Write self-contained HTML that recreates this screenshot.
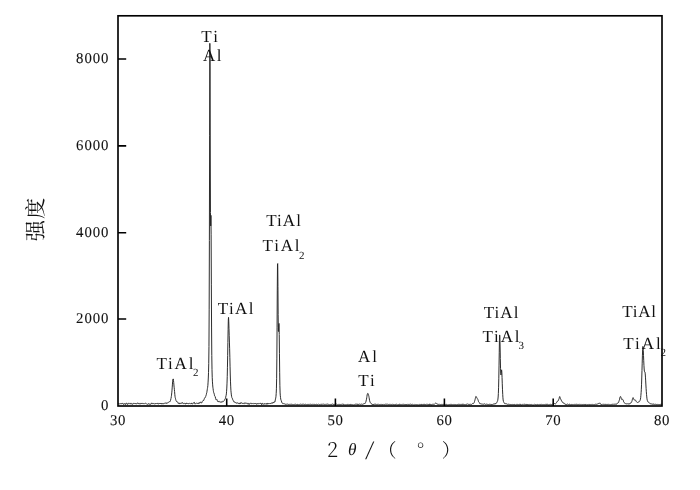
<!DOCTYPE html>
<html lang="zh"><head><meta charset="utf-8"><title>XRD</title>
<style>
html,body{margin:0;padding:0;background:#fff;}
body{width:700px;height:490px;overflow:hidden;}
svg{display:block;}
text{font-family:"Liberation Serif","Noto Serif CJK SC",serif;fill:#111;text-rendering:geometricPrecision;}
.tk{font-size:14.8px;letter-spacing:0.6px;stroke:#111;stroke-width:0.1px;}
.lb{font-size:17px;}
.sb{font-size:11px;}
.ax text{font-family:"Noto Serif CJK SC","Liberation Serif",serif;font-weight:300;}
.cj{font-family:"Noto Serif CJK SC","Liberation Serif",serif;font-size:21.2px;font-weight:400;}
</style></head><body>
<svg width="700" height="490" viewBox="0 0 700 490">
<rect width="700" height="490" fill="#fff"/>
<polyline fill="none" stroke="#222" stroke-width="0.95" stroke-linejoin="round" points="118.00,403.42 118.22,403.42 118.44,403.68 118.65,403.75 118.87,403.75 119.09,403.84 119.31,404.04 119.52,403.83 119.74,403.70 119.96,403.47 120.18,403.72 120.39,403.74 120.61,403.66 120.83,403.68 121.05,404.08 121.26,403.91 121.48,403.84 121.70,403.48 121.92,403.91 122.13,403.60 122.35,403.62 122.57,403.39 122.79,403.31 123.00,403.35 123.22,403.57 123.44,404.07 123.66,404.53 123.88,404.02 124.09,404.02 124.31,403.70 124.53,403.70 124.75,403.95 124.96,403.69 125.18,404.33 125.40,404.13 125.62,404.49 125.83,403.76 126.05,403.26 126.27,403.08 126.49,403.21 126.70,403.61 126.92,403.42 127.14,403.75 127.36,404.07 127.57,404.56 127.79,404.32 128.01,403.51 128.23,403.08 128.44,403.27 128.66,403.34 128.88,403.34 129.10,403.21 129.32,403.56 129.53,403.63 129.75,403.72 129.97,404.06 130.19,403.93 130.40,403.89 130.62,403.35 130.84,403.53 131.06,403.90 131.27,404.17 131.49,403.74 131.71,403.43 131.93,403.59 132.14,404.19 132.36,404.32 132.58,404.20 132.80,404.20 133.01,403.67 133.23,403.67 133.45,403.40 133.67,403.42 133.88,403.05 134.10,403.11 134.32,403.34 134.54,403.50 134.76,403.50 134.97,403.93 135.19,403.95 135.41,403.72 135.63,403.27 135.84,403.60 136.06,403.82 136.28,404.03 136.50,403.90 136.71,403.59 136.93,403.15 137.15,402.95 137.37,403.11 137.58,403.28 137.80,403.42 138.02,403.55 138.24,403.83 138.45,403.84 138.67,403.36 138.89,403.04 139.11,403.10 139.32,403.66 139.54,404.02 139.76,403.87 139.98,403.69 140.20,403.81 140.41,403.79 140.63,403.99 140.85,403.39 141.07,403.46 141.28,402.99 141.50,403.38 141.72,403.47 141.94,403.76 142.15,403.45 142.37,403.27 142.59,403.59 142.81,403.77 143.02,403.88 143.24,403.71 143.46,403.88 143.68,403.53 143.89,403.52 144.11,403.56 144.33,403.79 144.55,403.68 144.76,403.52 144.98,403.49 145.20,403.42 145.42,403.33 145.64,403.29 145.85,403.33 146.07,403.53 146.29,403.80 146.51,403.97 146.72,403.80 146.94,403.95 147.16,404.22 147.38,404.24 147.59,404.29 147.81,404.32 148.03,404.26 148.25,404.13 148.46,403.62 148.68,403.81 148.90,403.89 149.12,404.25 149.33,404.25 149.55,404.07 149.77,403.98 149.99,403.93 150.20,404.19 150.42,404.02 150.64,404.33 150.86,404.05 151.08,403.91 151.29,403.31 151.51,402.92 151.73,403.38 151.95,403.45 152.16,403.55 152.38,403.03 152.60,403.38 152.82,403.54 153.03,403.36 153.25,403.47 153.47,403.46 153.69,403.61 153.90,403.44 154.12,403.42 154.34,403.87 154.56,403.89 154.77,404.18 154.99,403.92 155.21,403.76 155.43,403.40 155.64,403.63 155.86,403.63 156.08,403.63 156.30,403.32 156.52,403.56 156.73,403.62 156.95,403.83 157.17,403.48 157.39,403.55 157.60,403.19 157.82,403.25 158.04,403.69 158.26,404.22 158.47,404.09 158.69,403.76 158.91,403.23 159.13,403.33 159.34,403.42 159.56,403.43 159.78,403.65 160.00,403.91 160.21,403.71 160.43,403.93 160.65,403.37 160.87,403.59 161.08,403.16 161.30,403.64 161.52,403.61 161.74,403.94 161.96,403.86 162.17,404.13 162.39,403.66 162.61,403.31 162.83,403.06 163.04,403.31 163.26,403.39 163.48,403.79 163.70,403.75 163.91,403.57 164.13,403.39 164.35,403.21 164.57,403.43 164.78,403.47 165.00,403.55 165.22,403.45 165.44,403.18 165.65,403.12 165.87,402.69 166.09,402.83 166.31,402.89 166.52,403.43 166.74,403.34 166.96,403.11 167.18,403.00 167.40,402.97 167.61,402.90 167.83,402.71 168.05,402.73 168.27,402.60 168.48,402.46 168.70,402.16 168.92,402.00 169.14,401.63 169.35,401.62 169.57,401.79 169.79,401.73 170.01,401.40 170.22,401.33 170.44,400.66 170.66,400.03 170.88,398.68 171.09,398.18 171.31,396.58 171.53,395.17 171.75,392.83 171.96,390.88 172.18,387.90 172.40,384.88 172.62,381.83 172.84,379.73 173.05,378.88 173.27,379.01 173.49,380.45 173.71,382.50 173.92,384.96 174.14,387.24 174.36,389.35 174.58,391.62 174.79,394.28 175.01,396.24 175.23,397.53 175.45,398.26 175.66,399.33 175.88,400.25 176.10,400.89 176.32,401.05 176.53,401.44 176.75,401.30 176.97,401.55 177.19,401.87 177.40,402.19 177.62,402.23 177.84,402.30 178.06,402.62 178.28,403.38 178.49,403.15 178.71,403.24 178.93,403.27 179.15,403.88 179.36,403.85 179.58,403.29 179.80,402.97 180.02,402.86 180.23,403.28 180.45,403.57 180.67,403.51 180.89,403.20 181.10,402.95 181.32,402.89 181.54,403.20 181.76,403.30 181.97,403.37 182.19,402.80 182.41,402.73 182.63,402.60 182.84,403.12 183.06,403.06 183.28,403.46 183.50,403.67 183.72,403.69 183.93,403.47 184.15,403.18 184.37,403.25 184.59,403.16 184.80,403.40 185.02,403.70 185.24,404.13 185.46,404.12 185.67,403.53 185.89,403.33 186.11,403.27 186.33,403.68 186.54,403.15 186.76,403.10 186.98,403.13 187.20,403.66 187.41,403.40 187.63,403.20 187.85,403.45 188.07,403.82 188.28,403.75 188.50,403.57 188.72,403.67 188.94,403.55 189.16,403.37 189.37,403.08 189.59,403.38 189.81,403.49 190.03,403.58 190.24,403.80 190.46,403.78 190.68,403.93 190.90,403.57 191.11,403.93 191.33,403.65 191.55,403.76 191.77,403.08 191.98,403.28 192.20,403.54 192.42,404.04 192.64,404.05 192.85,403.87 193.07,403.64 193.29,403.24 193.51,402.77 193.72,403.00 193.94,402.60 194.16,402.53 194.38,402.41 194.60,403.43 194.81,403.85 195.03,403.78 195.25,403.77 195.47,403.73 195.68,403.77 195.90,403.44 196.12,403.31 196.34,403.05 196.55,402.97 196.77,403.03 196.99,403.36 197.21,403.41 197.42,403.41 197.64,403.15 197.86,403.07 198.08,403.53 198.29,403.48 198.51,403.67 198.73,403.14 198.95,402.85 199.16,402.48 199.38,402.70 199.60,403.33 199.82,403.02 200.04,402.71 200.25,402.22 200.47,402.20 200.69,402.12 200.91,402.20 201.12,402.50 201.34,403.02 201.56,403.16 201.78,402.84 201.99,402.08 202.21,401.51 202.43,401.35 202.65,401.09 202.86,400.80 203.08,400.74 203.30,400.60 203.52,400.85 203.73,400.17 203.95,399.80 204.17,399.02 204.39,398.55 204.60,397.95 204.82,397.66 205.04,397.39 205.26,397.46 205.48,396.84 205.69,396.43 205.91,395.87 206.13,395.02 206.35,394.47 206.56,393.16 206.78,392.62 207.00,391.20 207.22,389.84 207.43,388.48 207.65,387.27 207.87,385.38 208.09,382.15 208.30,378.03 208.52,372.58 208.74,363.58 208.96,346.57 209.17,309.86 209.39,240.49 209.61,135.22 209.83,43.30 210.04,57.87 210.26,147.00 210.48,212.34 210.70,225.93 210.92,215.34 211.13,234.24 211.35,284.15 211.57,327.98 211.79,355.48 212.00,369.69 212.22,377.30 212.44,381.87 212.66,384.89 212.87,387.17 213.09,388.70 213.31,390.36 213.53,391.74 213.74,392.66 213.96,393.00 214.18,393.88 214.40,394.64 214.61,395.83 214.83,396.07 215.05,396.62 215.27,396.80 215.48,398.03 215.70,398.67 215.92,399.49 216.14,399.27 216.36,399.63 216.57,399.86 216.79,399.97 217.01,399.67 217.23,400.38 217.44,400.81 217.66,401.35 217.88,400.93 218.10,401.10 218.31,401.60 218.53,401.94 218.75,401.83 218.97,401.43 219.18,401.30 219.40,401.71 219.62,401.99 219.84,402.11 220.05,401.87 220.27,401.90 220.49,402.01 220.71,402.09 220.92,402.37 221.14,402.06 221.36,401.84 221.58,401.81 221.80,401.85 222.01,402.26 222.23,401.72 222.45,401.54 222.67,401.29 222.88,401.20 223.10,401.36 223.32,401.30 223.54,401.47 223.75,401.22 223.97,400.94 224.19,400.54 224.41,400.37 224.62,399.82 224.84,399.27 225.06,398.82 225.28,398.79 225.49,398.27 225.71,397.20 225.93,396.04 226.15,395.32 226.36,393.92 226.58,391.28 226.80,388.07 227.02,383.17 227.24,376.70 227.45,367.22 227.67,355.60 227.89,342.59 228.11,329.43 228.32,320.15 228.54,317.37 228.76,321.27 228.98,328.36 229.19,335.29 229.41,342.06 229.63,348.77 229.85,357.32 230.06,366.20 230.28,375.01 230.50,381.89 230.72,386.90 230.93,390.73 231.15,392.88 231.37,394.93 231.59,396.22 231.80,397.55 232.02,397.88 232.24,398.07 232.46,398.78 232.68,399.49 232.89,400.13 233.11,400.26 233.33,400.56 233.55,401.05 233.76,401.67 233.98,401.90 234.20,402.13 234.42,401.75 234.63,401.93 234.85,402.03 235.07,402.51 235.29,402.73 235.50,402.64 235.72,402.46 235.94,402.74 236.16,403.18 236.37,403.37 236.59,403.17 236.81,402.80 237.03,402.82 237.24,402.87 237.46,402.78 237.68,403.10 237.90,403.08 238.12,403.45 238.33,403.53 238.55,403.44 238.77,403.18 238.99,403.37 239.20,403.76 239.42,403.83 239.64,403.23 239.86,403.15 240.07,403.27 240.29,403.80 240.51,403.15 240.73,403.03 240.94,402.56 241.16,402.96 241.38,402.88 241.60,402.95 241.81,403.17 242.03,403.22 242.25,403.34 242.47,403.01 242.68,403.33 242.90,403.46 243.12,403.60 243.34,403.19 243.56,403.06 243.77,403.35 243.99,403.65 244.21,403.79 244.43,403.25 244.64,403.05 244.86,402.69 245.08,403.03 245.30,403.33 245.51,403.36 245.73,403.08 245.95,402.85 246.17,403.11 246.38,403.23 246.60,403.43 246.82,403.27 247.04,403.65 247.25,403.78 247.47,403.82 247.69,403.61 247.91,403.02 248.12,403.20 248.34,403.26 248.56,403.90 248.78,404.23 249.00,404.61 249.21,404.28 249.43,404.14 249.65,403.54 249.87,403.34 250.08,403.16 250.30,403.05 250.52,403.30 250.74,403.01 250.95,403.41 251.17,403.26 251.39,403.69 251.61,403.52 251.82,403.81 252.04,403.64 252.26,403.64 252.48,403.52 252.69,403.51 252.91,403.49 253.13,403.36 253.35,403.63 253.56,403.67 253.78,403.70 254.00,403.57 254.22,403.61 254.44,404.02 254.65,403.57 254.87,403.70 255.09,403.44 255.31,403.49 255.52,403.47 255.74,403.34 255.96,403.80 256.18,403.89 256.39,404.30 256.61,404.13 256.83,403.80 257.05,403.47 257.26,403.24 257.48,403.67 257.70,403.90 257.92,404.18 258.13,403.85 258.35,403.59 258.57,403.50 258.79,403.49 259.00,403.59 259.22,403.59 259.44,403.45 259.66,403.54 259.88,403.50 260.09,403.44 260.31,403.30 260.53,403.19 260.75,403.65 260.96,403.26 261.18,403.87 261.40,403.98 261.62,404.60 261.83,403.80 262.05,403.49 262.27,403.33 262.49,403.93 262.70,403.93 262.92,403.85 263.14,403.72 263.36,404.11 263.57,404.36 263.79,404.17 264.01,403.79 264.23,403.55 264.44,403.62 264.66,404.05 264.88,404.05 265.10,404.23 265.32,403.86 265.53,403.77 265.75,403.69 265.97,403.91 266.19,403.80 266.40,403.58 266.62,403.49 266.84,404.32 267.06,404.40 267.27,404.13 267.49,403.27 267.71,403.39 267.93,403.65 268.14,403.97 268.36,403.65 268.58,403.75 268.80,403.68 269.01,404.03 269.23,403.72 269.45,404.01 269.67,403.73 269.88,403.88 270.10,403.59 270.32,403.54 270.54,403.19 270.76,403.48 270.97,403.36 271.19,403.46 271.41,403.14 271.63,403.03 271.84,403.08 272.06,402.72 272.28,403.09 272.50,403.27 272.71,403.23 272.93,402.59 273.15,402.19 273.37,402.16 273.58,402.59 273.80,402.84 274.02,402.88 274.24,402.21 274.45,402.01 274.67,401.67 274.89,401.92 275.11,400.91 275.32,399.89 275.54,398.87 275.76,397.90 275.98,396.32 276.20,393.62 276.41,388.79 276.63,378.70 276.85,358.88 277.07,327.20 277.28,290.92 277.50,264.00 277.72,263.55 277.94,286.57 278.15,314.62 278.37,330.91 278.59,331.54 278.81,324.42 279.02,323.47 279.24,334.47 279.46,353.72 279.68,372.27 279.89,385.73 280.11,392.96 280.33,395.79 280.55,397.66 280.76,399.18 280.98,399.99 281.20,400.53 281.42,400.83 281.64,401.94 281.85,402.54 282.07,403.00 282.29,403.13 282.51,403.25 282.72,403.65 282.94,403.53 283.16,403.63 283.38,403.57 283.59,403.79 283.81,403.74 284.03,403.97 284.25,403.96 284.46,403.82 284.68,403.75 284.90,403.97 285.12,404.36 285.33,404.35 285.55,404.29 285.77,404.15 285.99,404.19 286.20,404.36 286.42,404.26 286.64,404.25 286.86,404.08 287.08,404.16 287.29,404.09 287.51,404.08 287.73,404.22 287.95,404.20 288.16,404.27 288.38,404.26 288.60,404.61 288.82,404.56 289.03,404.60 289.25,404.48 289.47,404.43 289.69,404.30 289.90,404.12 290.12,404.14 290.34,404.20 290.56,404.37 290.77,404.47 290.99,404.35 291.21,404.31 291.43,404.30 291.64,404.28 291.86,404.27 292.08,404.28 292.30,404.58 292.52,404.54 292.73,404.45 292.95,404.26 293.17,404.37 293.39,404.51 293.60,404.54 293.82,404.46 294.04,404.38 294.26,404.37 294.47,404.46 294.69,404.40 294.91,404.36 295.13,404.39 295.34,404.34 295.56,404.28 295.78,404.08 296.00,404.19 296.21,404.32 296.43,404.56 296.65,404.46 296.87,404.70 297.08,404.60 297.30,404.74 297.52,404.37 297.74,404.32 297.96,404.40 298.17,404.69 298.39,404.78 298.61,404.65 298.83,404.46 299.04,404.40 299.26,404.50 299.48,404.53 299.70,404.39 299.91,404.44 300.13,404.41 300.35,404.33 300.57,404.13 300.78,404.19 301.00,404.31 301.22,404.47 301.44,404.42 301.65,404.31 301.87,403.98 302.09,404.19 302.31,404.30 302.52,404.29 302.74,404.15 302.96,404.20 303.18,404.26 303.40,404.25 303.61,404.23 303.83,404.42 304.05,404.60 304.27,404.62 304.48,404.63 304.70,404.28 304.92,404.06 305.14,403.96 305.35,404.12 305.57,404.32 305.79,404.38 306.01,404.21 306.22,404.45 306.44,404.61 306.66,405.00 306.88,404.74 307.09,404.60 307.31,404.43 307.53,404.59 307.75,404.66 307.96,404.70 308.18,404.65 308.40,404.64 308.62,404.35 308.84,404.27 309.05,404.31 309.27,404.56 309.49,404.45 309.71,404.29 309.92,404.19 310.14,404.25 310.36,404.11 310.58,404.29 310.79,404.47 311.01,404.89 311.23,404.68 311.45,404.63 311.66,404.50 311.88,404.65 312.10,404.52 312.32,404.46 312.53,404.43 312.75,404.36 312.97,404.47 313.19,404.56 313.40,404.40 313.62,404.31 313.84,404.22 314.06,404.64 314.28,404.61 314.49,404.44 314.71,404.26 314.93,404.18 315.15,404.31 315.36,404.59 315.58,404.62 315.80,404.40 316.02,404.08 316.23,404.14 316.45,404.23 316.67,404.41 316.89,404.39 317.10,404.64 317.32,404.64 317.54,404.61 317.76,404.48 317.97,404.35 318.19,404.13 318.41,403.95 318.63,404.08 318.84,404.40 319.06,404.65 319.28,404.73 319.50,404.64 319.72,404.50 319.93,404.36 320.15,404.34 320.37,404.37 320.59,404.41 320.80,404.53 321.02,404.34 321.24,404.19 321.46,404.21 321.67,404.54 321.89,404.74 322.11,404.62 322.33,404.36 322.54,404.16 322.76,404.03 322.98,404.05 323.20,404.04 323.41,404.08 323.63,404.16 323.85,404.31 324.07,404.62 324.28,404.69 324.50,404.45 324.72,404.31 324.94,404.37 325.16,404.46 325.37,404.39 325.59,404.37 325.81,404.30 326.03,404.24 326.24,404.08 326.46,404.35 326.68,404.36 326.90,404.41 327.11,404.24 327.33,404.16 327.55,404.07 327.77,404.15 327.98,404.20 328.20,404.48 328.42,404.42 328.64,404.43 328.85,404.33 329.07,404.51 329.29,404.60 329.51,404.70 329.72,404.56 329.94,404.52 330.16,404.49 330.38,404.52 330.60,404.43 330.81,404.18 331.03,404.06 331.25,404.21 331.47,404.39 331.68,404.56 331.90,404.47 332.12,404.13 332.34,403.91 332.55,403.79 332.77,403.91 332.99,404.29 333.21,404.51 333.42,404.73 333.64,404.38 333.86,404.14 334.08,404.17 334.29,404.32 334.51,404.46 334.73,404.44 334.95,404.52 335.16,404.67 335.38,404.50 335.60,404.54 335.82,404.31 336.04,404.41 336.25,404.21 336.47,404.16 336.69,404.25 336.91,404.45 337.12,404.58 337.34,404.63 337.56,404.62 337.78,404.68 337.99,404.54 338.21,404.60 338.43,404.63 338.65,404.58 338.86,404.26 339.08,404.46 339.30,404.37 339.52,404.43 339.73,404.32 339.95,404.66 340.17,404.72 340.39,404.63 340.60,404.44 340.82,404.38 341.04,404.38 341.26,404.37 341.48,404.42 341.69,404.26 341.91,404.07 342.13,403.92 342.35,404.00 342.56,404.24 342.78,404.16 343.00,404.11 343.22,404.03 343.43,404.46 343.65,404.44 343.87,404.59 344.09,404.51 344.30,404.77 344.52,404.74 344.74,404.67 344.96,404.69 345.17,404.74 345.39,404.76 345.61,404.73 345.83,404.77 346.04,404.86 346.26,404.88 346.48,404.65 346.70,404.67 346.92,404.40 347.13,404.36 347.35,404.39 347.57,404.48 347.79,404.65 348.00,404.64 348.22,404.69 348.44,404.66 348.66,404.43 348.87,404.26 349.09,404.37 349.31,404.51 349.53,404.57 349.74,404.28 349.96,404.54 350.18,404.44 350.40,404.61 350.61,404.12 350.83,404.33 351.05,404.41 351.27,404.59 351.48,404.39 351.70,404.29 351.92,404.58 352.14,404.64 352.36,404.84 352.57,404.67 352.79,404.90 353.01,404.93 353.23,404.96 353.44,404.94 353.66,404.78 353.88,404.63 354.10,404.55 354.31,404.66 354.53,404.67 354.75,404.51 354.97,404.21 355.18,404.17 355.40,404.21 355.62,404.21 355.84,404.06 356.05,403.93 356.27,404.07 356.49,404.27 356.71,404.30 356.92,404.06 357.14,403.84 357.36,404.31 357.58,404.52 357.80,405.11 358.01,404.73 358.23,404.69 358.45,404.28 358.67,404.38 358.88,404.22 359.10,404.26 359.32,404.11 359.54,404.20 359.75,404.11 359.97,404.17 360.19,404.22 360.41,404.39 360.62,404.35 360.84,404.27 361.06,404.14 361.28,404.13 361.49,404.09 361.71,404.22 361.93,404.31 362.15,404.46 362.36,404.39 362.58,404.31 362.80,404.34 363.02,404.25 363.24,404.23 363.45,404.05 363.67,403.91 363.89,403.61 364.11,403.66 364.32,403.59 364.54,403.93 364.76,403.69 364.98,403.41 365.19,402.87 365.41,402.70 365.63,402.46 365.85,401.89 366.06,401.08 366.28,400.01 366.50,399.20 366.72,397.77 366.93,396.43 367.15,394.95 367.37,394.15 367.59,393.59 367.80,393.40 368.02,393.46 368.24,393.96 368.46,394.72 368.68,395.59 368.89,396.37 369.11,397.68 369.33,398.96 369.55,400.37 369.76,401.11 369.98,401.93 370.20,402.30 370.42,402.70 370.63,402.91 370.85,403.36 371.07,403.57 371.29,403.69 371.50,403.68 371.72,403.89 371.94,403.90 372.16,404.19 372.37,403.99 372.59,404.50 372.81,404.42 373.03,404.76 373.24,404.30 373.46,404.44 373.68,404.08 373.90,404.39 374.12,403.97 374.33,404.16 374.55,403.98 374.77,404.19 374.99,403.98 375.20,403.89 375.42,404.23 375.64,404.36 375.86,404.45 376.07,404.38 376.29,404.44 376.51,404.63 376.73,404.41 376.94,404.48 377.16,404.42 377.38,404.36 377.60,404.52 377.81,404.42 378.03,404.57 378.25,404.47 378.47,404.26 378.68,404.18 378.90,404.30 379.12,404.56 379.34,404.67 379.56,404.53 379.77,404.50 379.99,404.40 380.21,404.39 380.43,404.48 380.64,404.44 380.86,404.32 381.08,404.33 381.30,404.40 381.51,404.52 381.73,404.29 381.95,404.15 382.17,404.25 382.38,404.40 382.60,404.72 382.82,404.75 383.04,404.76 383.25,404.49 383.47,404.26 383.69,404.30 383.91,404.55 384.12,404.62 384.34,404.60 384.56,404.38 384.78,404.41 385.00,404.30 385.21,404.27 385.43,404.19 385.65,404.34 385.87,404.30 386.08,404.46 386.30,404.40 386.52,404.29 386.74,404.18 386.95,404.34 387.17,404.39 387.39,404.31 387.61,404.02 387.82,404.18 388.04,404.27 388.26,404.44 388.48,404.55 388.69,404.40 388.91,404.42 389.13,404.39 389.35,404.64 389.56,404.36 389.78,404.19 390.00,404.18 390.22,404.42 390.44,404.47 390.65,404.31 390.87,404.51 391.09,404.46 391.31,404.60 391.52,404.48 391.74,404.64 391.96,404.52 392.18,404.22 392.39,404.15 392.61,404.18 392.83,404.50 393.05,404.45 393.26,404.42 393.48,404.51 393.70,404.63 393.92,404.63 394.13,404.67 394.35,404.65 394.57,404.68 394.79,404.67 395.00,404.67 395.22,404.74 395.44,404.42 395.66,404.53 395.88,404.40 396.09,404.47 396.31,404.17 396.53,404.16 396.75,404.16 396.96,404.24 397.18,404.60 397.40,404.81 397.62,405.00 397.83,404.82 398.05,404.54 398.27,404.64 398.49,404.64 398.70,404.91 398.92,404.89 399.14,404.66 399.36,404.49 399.57,404.10 399.79,404.13 400.01,404.26 400.23,404.69 400.44,404.58 400.66,404.52 400.88,404.43 401.10,404.60 401.32,404.53 401.53,404.47 401.75,404.60 401.97,404.60 402.19,404.51 402.40,404.37 402.62,404.44 402.84,404.49 403.06,404.51 403.27,404.43 403.49,404.25 403.71,404.35 403.93,404.40 404.14,404.68 404.36,404.47 404.58,404.63 404.80,404.46 405.01,404.75 405.23,404.54 405.45,404.47 405.67,404.57 405.88,404.63 406.10,404.94 406.32,404.57 406.54,404.60 406.76,404.57 406.97,404.83 407.19,404.62 407.41,404.24 407.63,404.00 407.84,404.26 408.06,404.46 408.28,404.41 408.50,404.41 408.71,404.43 408.93,404.75 409.15,404.80 409.37,404.61 409.58,404.42 409.80,404.22 410.02,404.30 410.24,404.25 410.45,404.12 410.67,404.19 410.89,404.36 411.11,404.67 411.32,404.54 411.54,404.56 411.76,404.62 411.98,404.78 412.20,404.72 412.41,404.43 412.63,404.27 412.85,404.37 413.07,404.57 413.28,404.73 413.50,404.79 413.72,404.71 413.94,404.61 414.15,404.45 414.37,404.64 414.59,404.84 414.81,404.69 415.02,404.62 415.24,404.38 415.46,404.46 415.68,404.37 415.89,404.59 416.11,404.64 416.33,404.71 416.55,404.61 416.76,404.62 416.98,404.60 417.20,404.61 417.42,404.66 417.64,404.72 417.85,404.72 418.07,404.76 418.29,404.83 418.51,404.85 418.72,404.81 418.94,404.66 419.16,404.87 419.38,404.74 419.59,404.58 419.81,404.24 420.03,404.30 420.25,404.54 420.46,404.60 420.68,404.76 420.90,404.33 421.12,404.41 421.33,404.22 421.55,404.68 421.77,404.76 421.99,404.91 422.20,404.63 422.42,404.42 422.64,404.31 422.86,404.63 423.08,404.56 423.29,404.71 423.51,404.28 423.73,404.19 423.95,403.97 424.16,404.05 424.38,404.44 424.60,404.22 424.82,404.31 425.03,404.03 425.25,404.46 425.47,404.49 425.69,404.76 425.90,404.69 426.12,404.68 426.34,404.50 426.56,404.30 426.77,404.24 426.99,404.24 427.21,404.41 427.43,404.22 427.64,404.32 427.86,404.18 428.08,404.67 428.30,404.70 428.52,404.80 428.73,404.58 428.95,404.09 429.17,403.83 429.39,403.99 429.60,404.50 429.82,404.83 430.04,404.43 430.26,404.15 430.47,404.09 430.69,404.48 430.91,404.73 431.13,405.10 431.34,405.11 431.56,404.95 431.78,404.51 432.00,404.48 432.21,404.52 432.43,404.41 432.65,404.22 432.87,404.26 433.08,404.37 433.30,404.31 433.52,404.24 433.74,404.35 433.96,404.43 434.17,404.38 434.39,404.31 434.61,404.02 434.83,403.83 435.04,403.52 435.26,403.33 435.48,403.15 435.70,403.04 435.91,403.21 436.13,403.43 436.35,403.37 436.57,403.58 436.78,403.73 437.00,404.23 437.22,404.21 437.44,404.17 437.65,404.01 437.87,404.13 438.09,404.45 438.31,404.57 438.52,404.45 438.74,404.26 438.96,404.33 439.18,404.39 439.40,404.23 439.61,404.22 439.83,404.47 440.05,404.73 440.27,404.74 440.48,404.79 440.70,404.63 440.92,404.71 441.14,404.42 441.35,404.50 441.57,404.44 441.79,404.31 442.01,404.40 442.22,404.45 442.44,404.61 442.66,404.44 442.88,404.36 443.09,404.52 443.31,404.54 443.53,404.46 443.75,404.08 443.96,404.20 444.18,404.25 444.40,404.57 444.62,404.73 444.84,404.75 445.05,404.57 445.27,404.51 445.49,404.61 445.71,404.86 445.92,404.57 446.14,404.56 446.36,404.35 446.58,404.62 446.79,404.53 447.01,404.68 447.23,404.86 447.45,404.86 447.66,404.72 447.88,404.69 448.10,404.72 448.32,404.84 448.53,404.71 448.75,404.72 448.97,404.91 449.19,404.75 449.40,404.57 449.62,404.48 449.84,404.52 450.06,404.49 450.28,404.32 450.49,404.38 450.71,404.67 450.93,404.66 451.15,404.61 451.36,404.42 451.58,404.63 451.80,404.48 452.02,404.61 452.23,404.34 452.45,404.56 452.67,404.67 452.89,404.82 453.10,404.85 453.32,404.74 453.54,404.59 453.76,404.34 453.97,404.26 454.19,404.41 454.41,404.60 454.63,404.55 454.84,404.34 455.06,404.33 455.28,404.42 455.50,404.65 455.72,404.58 455.93,404.45 456.15,404.71 456.37,404.71 456.59,404.89 456.80,404.82 457.02,404.81 457.24,404.76 457.46,404.42 457.67,404.63 457.89,404.35 458.11,404.38 458.33,404.26 458.54,404.33 458.76,404.26 458.98,404.12 459.20,404.16 459.41,404.50 459.63,404.39 459.85,404.58 460.07,404.29 460.28,404.38 460.50,404.42 460.72,404.42 460.94,404.44 461.16,404.35 461.37,404.33 461.59,404.62 461.81,404.76 462.03,404.96 462.24,404.72 462.46,404.10 462.68,403.93 462.90,403.99 463.11,404.46 463.33,404.37 463.55,404.26 463.77,404.39 463.98,404.38 464.20,404.47 464.42,404.23 464.64,404.60 464.85,404.79 465.07,404.81 465.29,404.78 465.51,404.54 465.72,404.57 465.94,404.32 466.16,404.32 466.38,404.33 466.60,404.28 466.81,404.37 467.03,404.40 467.25,404.09 467.47,403.89 467.68,403.81 467.90,404.11 468.12,404.34 468.34,404.38 468.55,404.45 468.77,404.23 468.99,404.36 469.21,404.61 469.42,404.79 469.64,404.58 469.86,403.96 470.08,403.75 470.29,403.94 470.51,404.25 470.73,404.47 470.95,404.35 471.16,404.40 471.38,404.46 471.60,404.34 471.82,404.17 472.04,403.93 472.25,403.89 472.47,403.60 472.69,403.48 472.91,403.48 473.12,403.52 473.34,403.60 473.56,403.28 473.78,403.26 473.99,402.86 474.21,402.57 474.43,401.77 474.65,401.15 474.86,400.28 475.08,399.54 475.30,398.61 475.52,397.58 475.73,396.86 475.95,396.35 476.17,396.55 476.39,396.95 476.60,397.31 476.82,397.93 477.04,398.15 477.26,398.54 477.48,398.76 477.69,399.26 477.91,399.55 478.13,400.16 478.35,400.89 478.56,401.63 478.78,401.87 479.00,402.07 479.22,402.38 479.43,402.83 479.65,403.40 479.87,403.66 480.09,404.03 480.30,403.79 480.52,403.86 480.74,403.73 480.96,403.86 481.17,403.88 481.39,403.89 481.61,403.94 481.83,404.09 482.04,404.32 482.26,404.35 482.48,404.12 482.70,403.85 482.92,403.94 483.13,404.06 483.35,404.25 483.57,404.19 483.79,404.36 484.00,404.29 484.22,404.10 484.44,403.94 484.66,403.78 484.87,404.13 485.09,404.32 485.31,404.52 485.53,404.36 485.74,404.30 485.96,404.17 486.18,404.31 486.40,404.12 486.61,404.13 486.83,404.20 487.05,404.30 487.27,404.45 487.48,404.18 487.70,404.32 487.92,404.25 488.14,404.31 488.36,404.59 488.57,404.86 488.79,404.91 489.01,404.58 489.23,404.22 489.44,404.20 489.66,404.34 489.88,404.42 490.10,404.54 490.31,404.40 490.53,404.50 490.75,404.36 490.97,404.50 491.18,404.56 491.40,404.88 491.62,404.42 491.84,404.40 492.05,404.21 492.27,404.61 492.49,404.55 492.71,404.48 492.92,404.25 493.14,404.12 493.36,404.01 493.58,404.13 493.80,404.14 494.01,403.99 494.23,403.88 494.45,403.79 494.67,404.15 494.88,404.02 495.10,403.96 495.32,403.46 495.54,403.77 495.75,403.68 495.97,403.71 496.19,403.18 496.41,403.06 496.62,402.77 496.84,402.39 497.06,401.95 497.28,401.57 497.49,401.12 497.71,400.37 497.93,399.07 498.15,397.00 498.36,393.50 498.58,387.22 498.80,378.21 499.02,365.89 499.24,352.76 499.45,340.72 499.67,334.94 499.89,337.48 500.11,346.99 500.32,358.60 500.54,368.31 500.76,373.77 500.98,374.93 501.19,373.15 501.41,370.75 501.63,369.83 501.85,372.25 502.06,377.53 502.28,383.80 502.50,389.82 502.72,394.37 502.93,397.79 503.15,399.90 503.37,401.15 503.59,401.79 503.80,402.17 504.02,402.68 504.24,403.09 504.46,403.36 504.68,403.65 504.89,403.59 505.11,403.67 505.33,403.54 505.55,403.86 505.76,403.87 505.98,403.98 506.20,403.71 506.42,403.81 506.63,404.00 506.85,404.18 507.07,404.33 507.29,404.24 507.50,404.38 507.72,404.35 507.94,404.28 508.16,404.17 508.37,404.11 508.59,404.25 508.81,404.53 509.03,404.70 509.24,404.57 509.46,404.31 509.68,403.99 509.90,404.22 510.12,404.32 510.33,404.58 510.55,404.47 510.77,404.47 510.99,404.48 511.20,404.47 511.42,404.58 511.64,404.50 511.86,404.34 512.07,404.07 512.29,404.18 512.51,404.45 512.73,404.69 512.94,404.73 513.16,404.48 513.38,404.55 513.60,404.44 513.81,404.74 514.03,404.68 514.25,404.67 514.47,404.32 514.68,404.37 514.90,404.35 515.12,404.80 515.34,404.86 515.56,405.01 515.77,404.82 515.99,404.62 516.21,404.44 516.43,404.58 516.64,404.57 516.86,404.79 517.08,404.36 517.30,404.39 517.51,404.24 517.73,404.49 517.95,404.53 518.17,404.55 518.38,404.62 518.60,404.52 518.82,404.49 519.04,404.31 519.25,404.41 519.47,404.37 519.69,404.55 519.91,404.11 520.12,404.28 520.34,404.24 520.56,404.56 520.78,404.32 521.00,404.37 521.21,404.69 521.43,405.02 521.65,405.05 521.87,404.94 522.08,404.79 522.30,404.54 522.52,404.31 522.74,404.36 522.95,404.43 523.17,404.45 523.39,404.20 523.61,404.29 523.82,404.49 524.04,404.57 524.26,404.37 524.48,404.34 524.69,404.19 524.91,404.17 525.13,404.14 525.35,404.57 525.56,404.86 525.78,404.87 526.00,404.61 526.22,404.74 526.44,404.40 526.65,404.18 526.87,404.06 527.09,404.59 527.31,404.90 527.52,404.76 527.74,404.37 527.96,404.26 528.18,404.33 528.39,404.75 528.61,404.77 528.83,404.64 529.05,404.44 529.26,404.47 529.48,404.55 529.70,404.54 529.92,404.72 530.13,404.70 530.35,404.84 530.57,404.53 530.79,404.68 531.00,404.45 531.22,404.71 531.44,404.55 531.66,404.64 531.88,404.48 532.09,404.63 532.31,404.81 532.53,404.91 532.75,404.85 532.96,404.84 533.18,404.89 533.40,405.05 533.62,404.85 533.83,404.81 534.05,404.60 534.27,404.30 534.49,404.23 534.70,404.19 534.92,404.43 535.14,404.47 535.36,404.59 535.57,404.56 535.79,404.41 536.01,404.70 536.23,404.83 536.44,405.00 536.66,404.71 536.88,404.53 537.10,404.56 537.32,404.38 537.53,404.60 537.75,404.59 537.97,404.60 538.19,404.63 538.40,404.60 538.62,404.82 538.84,404.84 539.06,404.73 539.27,404.52 539.49,404.56 539.71,404.79 539.93,404.55 540.14,404.49 540.36,404.45 540.58,404.70 540.80,404.72 541.01,404.65 541.23,404.61 541.45,404.39 541.67,404.36 541.88,404.31 542.10,404.45 542.32,404.45 542.54,404.62 542.76,404.64 542.97,404.55 543.19,404.51 543.41,404.57 543.63,404.61 543.84,404.71 544.06,404.69 544.28,404.72 544.50,404.53 544.71,404.43 544.93,404.25 545.15,404.18 545.37,404.22 545.58,404.45 545.80,404.74 546.02,404.70 546.24,404.52 546.45,404.22 546.67,404.42 546.89,404.41 547.11,404.47 547.32,404.01 547.54,404.10 547.76,404.23 547.98,404.72 548.20,404.84 548.41,404.97 548.63,404.90 548.85,404.92 549.07,404.97 549.28,404.85 549.50,404.69 549.72,404.40 549.94,404.40 550.15,404.31 550.37,404.27 550.59,404.44 550.81,404.60 551.02,404.89 551.24,404.81 551.46,404.75 551.68,404.60 551.89,404.29 552.11,404.05 552.33,403.96 552.55,404.15 552.76,404.40 552.98,404.43 553.20,404.31 553.42,404.34 553.64,404.23 553.85,404.28 554.07,403.99 554.29,403.82 554.51,403.49 554.72,403.54 554.94,403.77 555.16,404.07 555.38,403.94 555.59,403.79 555.81,403.60 556.03,403.41 556.25,403.14 556.46,402.61 556.68,402.07 556.90,401.71 557.12,401.48 557.33,401.64 557.55,401.29 557.77,401.11 557.99,400.73 558.20,400.66 558.42,400.00 558.64,399.64 558.86,399.04 559.08,398.62 559.29,397.64 559.51,396.78 559.73,396.52 559.95,397.07 560.16,397.72 560.38,398.42 560.60,399.09 560.82,399.47 561.03,399.94 561.25,399.99 561.47,400.71 561.69,401.13 561.90,401.63 562.12,401.83 562.34,401.84 562.56,402.25 562.77,402.40 562.99,402.90 563.21,402.86 563.43,403.07 563.64,403.20 563.86,403.16 564.08,403.35 564.30,403.29 564.52,403.86 564.73,403.98 564.95,404.20 565.17,404.09 565.39,404.19 565.60,404.36 565.82,404.82 566.04,404.88 566.26,404.93 566.47,404.61 566.69,404.45 566.91,404.08 567.13,404.00 567.34,403.99 567.56,404.20 567.78,404.19 568.00,404.25 568.21,404.36 568.43,404.50 568.65,404.54 568.87,404.29 569.08,404.15 569.30,404.00 569.52,404.38 569.74,404.45 569.96,404.60 570.17,404.38 570.39,404.58 570.61,404.86 570.83,405.19 571.04,405.07 571.26,404.56 571.48,404.27 571.70,404.37 571.91,404.62 572.13,404.69 572.35,404.52 572.57,404.62 572.78,404.74 573.00,404.83 573.22,404.68 573.44,404.49 573.65,404.27 573.87,404.49 574.09,404.40 574.31,404.54 574.52,404.39 574.74,404.36 574.96,404.39 575.18,404.38 575.40,404.45 575.61,404.36 575.83,404.29 576.05,404.21 576.27,404.22 576.48,404.38 576.70,404.23 576.92,404.30 577.14,404.20 577.35,404.60 577.57,404.86 577.79,405.01 578.01,404.91 578.22,404.57 578.44,404.47 578.66,404.38 578.88,404.32 579.09,404.20 579.31,404.30 579.53,404.41 579.75,404.56 579.96,404.67 580.18,404.51 580.40,404.63 580.62,404.53 580.84,404.68 581.05,404.79 581.27,404.69 581.49,404.76 581.71,404.47 581.92,404.60 582.14,404.75 582.36,404.75 582.58,404.70 582.79,404.39 583.01,404.35 583.23,404.57 583.45,404.56 583.66,404.52 583.88,404.22 584.10,404.29 584.32,404.48 584.53,404.51 584.75,404.61 584.97,404.17 585.19,404.26 585.40,404.36 585.62,404.76 585.84,404.55 586.06,404.48 586.28,404.74 586.49,404.74 586.71,404.63 586.93,404.38 587.15,404.48 587.36,404.63 587.58,404.71 587.80,404.68 588.02,404.63 588.23,404.42 588.45,404.54 588.67,404.37 588.89,404.42 589.10,404.68 589.32,404.69 589.54,404.77 589.76,404.40 589.97,404.47 590.19,404.24 590.41,404.38 590.63,404.65 590.84,404.87 591.06,404.76 591.28,404.55 591.50,404.56 591.72,404.44 591.93,404.42 592.15,404.23 592.37,404.39 592.59,404.55 592.80,404.79 593.02,404.84 593.24,404.62 593.46,404.60 593.67,404.73 593.89,404.88 594.11,404.84 594.33,404.76 594.54,404.68 594.76,404.37 594.98,404.19 595.20,404.19 595.41,404.38 595.63,404.18 595.85,403.94 596.07,403.89 596.28,404.19 596.50,404.41 596.72,404.36 596.94,404.12 597.16,404.03 597.37,404.07 597.59,403.98 597.81,403.99 598.03,403.98 598.24,403.93 598.46,403.56 598.68,403.30 598.90,403.18 599.11,403.09 599.33,403.07 599.55,403.30 599.77,403.31 599.98,403.29 600.20,403.22 600.42,403.67 600.64,403.91 600.85,404.37 601.07,404.37 601.29,404.80 601.51,404.64 601.72,404.52 601.94,404.25 602.16,404.03 602.38,404.18 602.60,404.19 602.81,404.45 603.03,404.40 603.25,404.43 603.47,404.25 603.68,404.12 603.90,404.07 604.12,404.37 604.34,404.50 604.55,404.38 604.77,404.16 604.99,404.19 605.21,404.24 605.42,404.16 605.64,404.52 605.86,404.45 606.08,404.52 606.29,404.13 606.51,404.39 606.73,404.45 606.95,404.44 607.16,404.55 607.38,404.48 607.60,404.55 607.82,404.18 608.04,404.19 608.25,404.22 608.47,404.39 608.69,404.39 608.91,404.35 609.12,404.28 609.34,404.45 609.56,404.62 609.78,404.75 609.99,404.84 610.21,404.77 610.43,404.65 610.65,404.67 610.86,404.73 611.08,404.67 611.30,404.53 611.52,404.37 611.73,404.61 611.95,404.67 612.17,404.69 612.39,404.33 612.60,404.13 612.82,404.29 613.04,404.43 613.26,404.36 613.48,404.05 613.69,404.25 613.91,404.35 614.13,404.16 614.35,404.10 614.56,404.03 614.78,404.37 615.00,404.39 615.22,404.45 615.43,404.20 615.65,403.86 615.87,403.88 616.09,404.02 616.30,404.23 616.52,404.32 616.74,404.12 616.96,403.73 617.17,403.19 617.39,403.21 617.61,403.10 617.83,402.99 618.04,402.77 618.26,402.68 618.48,402.54 618.70,402.05 618.92,401.30 619.13,400.71 619.35,400.09 619.57,399.26 619.79,398.08 620.00,397.16 620.22,396.65 620.44,396.49 620.66,396.59 620.87,397.09 621.09,397.67 621.31,398.37 621.53,398.97 621.74,399.57 621.96,399.58 622.18,399.43 622.40,399.29 622.61,399.48 622.83,399.51 623.05,399.69 623.27,400.21 623.48,401.24 623.70,401.93 623.92,402.12 624.14,402.36 624.36,402.67 624.57,403.13 624.79,403.18 625.01,403.13 625.23,403.35 625.44,403.56 625.66,403.84 625.88,403.82 626.10,403.99 626.31,403.90 626.53,403.83 626.75,403.62 626.97,403.55 627.18,403.63 627.40,403.66 627.62,403.90 627.84,403.86 628.05,403.88 628.27,403.84 628.49,404.00 628.71,403.83 628.92,403.77 629.14,403.68 629.36,404.11 629.58,404.08 629.80,403.79 630.01,403.31 630.23,403.07 630.45,403.08 630.67,402.98 630.88,403.13 631.10,402.83 631.32,402.50 631.54,402.01 631.75,401.57 631.97,401.09 632.19,400.28 632.41,399.27 632.62,398.60 632.84,397.75 633.06,397.73 633.28,397.73 633.49,398.43 633.71,398.88 633.93,399.47 634.15,399.80 634.36,400.13 634.58,399.95 634.80,399.99 635.02,399.95 635.24,400.11 635.45,400.10 635.67,400.27 635.89,400.78 636.11,401.35 636.32,401.69 636.54,401.78 636.76,401.89 636.98,402.13 637.19,402.31 637.41,402.52 637.63,402.52 637.85,402.41 638.06,402.17 638.28,401.96 638.50,402.08 638.72,402.05 638.93,402.17 639.15,401.79 639.37,401.59 639.59,401.30 639.80,401.08 640.02,400.47 640.24,399.90 640.46,399.08 640.68,397.66 640.89,395.47 641.11,392.61 641.33,389.26 641.55,384.20 641.76,377.98 641.98,370.54 642.20,363.21 642.42,355.82 642.63,349.76 642.85,346.41 643.07,346.79 643.29,350.36 643.50,355.32 643.72,360.73 643.94,365.36 644.16,369.00 644.37,371.14 644.59,371.80 644.81,371.77 645.03,372.19 645.24,373.92 645.46,377.12 645.68,380.92 645.90,384.97 646.12,388.66 646.33,391.74 646.55,394.71 646.77,396.92 646.99,398.82 647.20,399.93 647.42,400.62 647.64,401.46 647.86,401.70 648.07,402.06 648.29,402.06 648.51,402.27 648.73,402.30 648.94,402.49 649.16,402.73 649.38,403.11 649.60,403.19 649.81,403.44 650.03,403.67 650.25,403.74 650.47,403.81 650.68,403.66 650.90,403.69 651.12,403.73 651.34,403.85 651.56,403.97 651.77,403.97 651.99,403.91 652.21,403.94 652.43,403.92 652.64,404.33 652.86,404.28 653.08,404.51 653.30,404.33 653.51,404.23 653.73,403.84 653.95,403.86 654.17,404.23 654.38,404.42 654.60,404.43 654.82,404.24 655.04,404.47 655.25,404.29 655.47,404.15 655.69,404.18 655.91,404.42 656.12,404.71 656.34,404.45 656.56,404.60 656.78,404.50 657.00,404.62 657.21,404.49 657.43,404.43 657.65,404.65 657.87,404.73 658.08,404.92 658.30,404.59 658.52,404.47 658.74,404.48 658.95,404.52 659.17,404.54 659.39,404.52 659.61,404.62 659.82,404.52 660.04,404.11 660.26,404.21 660.48,404.22 660.69,404.58 660.91,404.48 661.13,404.33 661.35,404.22 661.56,404.10 661.78,404.35 662.00,404.47"/>
<rect x="118.0" y="15.8" width="544.0" height="390.2" fill="none" stroke="#000" stroke-width="1.65"/>
<path d="M118.0 58.90H126.2M118.0 145.86H126.2M118.0 232.77H126.2M118.0 319.00H126.2M226.70 406.0V398.4M335.40 406.0V398.4M444.40 406.0V398.4M553.20 406.0V398.4" stroke="#000" stroke-width="1.55" fill="none"/>
<text class="tk" x="109.45" y="62.8" text-anchor="end" style="letter-spacing:0.95px">8000</text>
<text class="tk" x="109.45" y="149.8" text-anchor="end" style="letter-spacing:0.95px">6000</text>
<text class="tk" x="109.45" y="236.7" text-anchor="end" style="letter-spacing:0.95px">4000</text>
<text class="tk" x="109.45" y="322.9" text-anchor="end" style="letter-spacing:0.95px">2000</text>
<text class="tk" x="109.45" y="409.9" text-anchor="end" style="letter-spacing:0.95px">0</text>
<text class="tk" x="118.1" y="425.1" text-anchor="middle">30</text>
<text class="tk" x="226.8" y="425.1" text-anchor="middle">40</text>
<text class="tk" x="335.5" y="425.1" text-anchor="middle">50</text>
<text class="tk" x="444.5" y="425.1" text-anchor="middle">60</text>
<text class="tk" x="553.3" y="425.1" text-anchor="middle">70</text>
<text class="tk" x="662.1" y="425.1" text-anchor="middle">80</text>
<text class="lb" x="156.44" y="368.6" style="letter-spacing:1.81px">TiAl<tspan class="sb" x="192.9" y="375.7">2</tspan></text>
<text class="lb" x="201.24" y="41.7" style="letter-spacing:2.32px">Ti</text>
<text class="lb" x="203.08" y="61.4" style="letter-spacing:1.51px">Al</text>
<text class="lb" x="217.84" y="314.3" style="letter-spacing:1.38px">TiAl</text>
<text class="lb" x="266.14" y="225.8" style="letter-spacing:1.08px">TiAl</text>
<text class="lb" x="262.54" y="250.8" style="letter-spacing:1.81px">TiAl<tspan class="sb" x="298.9" y="258.5">2</tspan></text>
<text class="lb" x="357.98" y="361.7" style="letter-spacing:2.01px">Al</text>
<text class="lb" x="358.14" y="385.7" style="letter-spacing:2.02px">Ti</text>
<text class="lb" x="483.74" y="318.3" style="letter-spacing:1.05px">TiAl</text>
<text class="lb" x="482.44" y="341.8" style="letter-spacing:1.88px">TiAl<tspan class="sb" x="518.4" y="348.9">3</tspan></text>
<text class="lb" x="622.14" y="316.9" style="letter-spacing:0.81px">TiAl</text>
<text class="lb" x="623.14" y="348.9" style="letter-spacing:2.01px">TiAl<tspan class="sb" x="660.5" y="356.0">2</tspan></text>
<text class="cj" transform="translate(43.4,219.1) rotate(-90)" text-anchor="middle" style="letter-spacing:1px">强度</text>
<g class="ax"><text x="327.1" y="456.7" style="font-size:20.2px">2</text><text x="347.9" y="454.6" style="font-family:'Liberation Serif',serif;font-style:italic;font-weight:400;font-size:17.3px">θ</text><text transform="translate(364.9,455.5) scale(1.45,1)" style="font-size:19px">/</text><text x="377.8" y="457.3" style="font-size:18.8px">（</text><text x="417.1" y="457.7" style="font-size:21px">°</text><text x="441.8" y="457.3" style="font-size:18.8px">）</text></g>
</svg></body></html>
